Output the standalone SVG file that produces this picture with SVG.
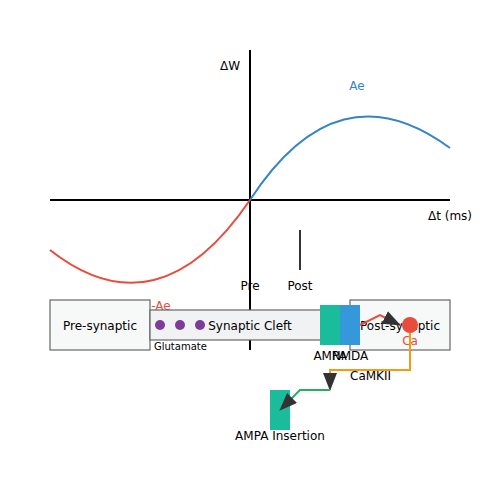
<svg xmlns="http://www.w3.org/2000/svg" width="500" height="500" viewBox="0 0 500 500">
<style>
text{font-family:"DejaVu Sans",sans-serif;font-size:12px;fill:#000}
.box{stroke:#666;stroke-width:1.2}
.ax{stroke:#000;stroke-width:2;fill:none}
</style>
<defs>
<marker id="arr" viewBox="0 0 18 14" refX="17" refY="7" markerWidth="18" markerHeight="14" orient="auto" markerUnits="userSpaceOnUse">
<path d="M0,0 L18,7 L0,14 z" fill="#333"/>
</marker>
</defs>
<rect width="500" height="500" fill="#fff"/>
<g id="plot">
<line class="ax" x1="50" y1="200" x2="450" y2="200"/>
<line class="ax" x1="250" y1="50" x2="250" y2="350"/>
<path d="M250,200 Q338,65 450,148" fill="none" stroke="#3584c4" stroke-width="2"/>
<path d="M50,250 Q158,335 250,200" fill="none" stroke="#e74c3c" stroke-width="2"/>
<line x1="300" y1="230" x2="300" y2="270" stroke="#333" stroke-width="2"/>
<text x="230" y="70" text-anchor="middle">ΔW</text>
<text x="450" y="220" text-anchor="middle">Δt (ms)</text>
<text x="357" y="90" text-anchor="middle" style="fill:#3584c4">Ae</text>
<text x="161" y="310" text-anchor="middle" style="fill:#e74c3c">-Ae</text>
<text x="250" y="290" text-anchor="middle">Pre</text>
<text x="300" y="290" text-anchor="middle">Post</text>
</g>
<g id="presynaptic">
<rect class="box" x="50" y="300" width="100" height="50" fill="#f7f9f9"/>
<text x="100" y="330" text-anchor="middle">Pre-synaptic</text>
</g>
<g id="cleft">
<rect class="box" x="150" y="310" width="200" height="30" fill="#f0f2f4"/>
<text x="250" y="330" text-anchor="middle">Synaptic Cleft</text>
</g>
<g id="postsynaptic">
<rect class="box" x="350" y="300" width="100" height="50" fill="#f7f9f9"/>
<text x="400" y="330" text-anchor="middle">Post-synaptic</text>
</g>
<g id="glutamate">
<circle cx="160" cy="325" r="5" fill="#7d3c98"/>
<circle cx="180" cy="325" r="5" fill="#7d3c98"/>
<circle cx="200" cy="325" r="5" fill="#7d3c98"/>
<text x="154" y="350" style="font-size:10px">Glutamate</text>
</g>
<g id="ampa">
<rect x="320" y="305" width="20" height="40" fill="#1abc9c"/>
<text x="330" y="360" text-anchor="middle">AMPA</text>
</g>
<g id="nmda">
<rect x="340" y="305" width="20" height="40" fill="#3498db"/>
<text x="350" y="360" text-anchor="middle">NMDA</text>
</g>
<g id="ca">
<circle cx="410" cy="325" r="8" fill="#e74c3c"/>
<text x="410" y="345" text-anchor="middle" style="fill:#e74c3c">Ca</text>
</g>
<g id="camkii">
<text x="350" y="380">CaMKII</text>
</g>
<g id="ampa-insertion">
<rect x="270" y="390" width="20" height="40" fill="#1abc9c"/>
<text x="280" y="440" text-anchor="middle">AMPA Insertion</text>
</g>
<g id="connectors">
<path d="M360,325 L380,315 L400,325" fill="none" stroke="#e74c3c" stroke-width="2" marker-end="url(#arr)"/>
<path d="M410,333 L410,370 L330,370 L330,390" fill="none" stroke="#f39c12" stroke-width="2" marker-end="url(#arr)"/>
<path d="M330,390 L300,390 L280,410" fill="none" stroke="#27ae60" stroke-width="2" marker-end="url(#arr)"/>
</g>
</svg>
